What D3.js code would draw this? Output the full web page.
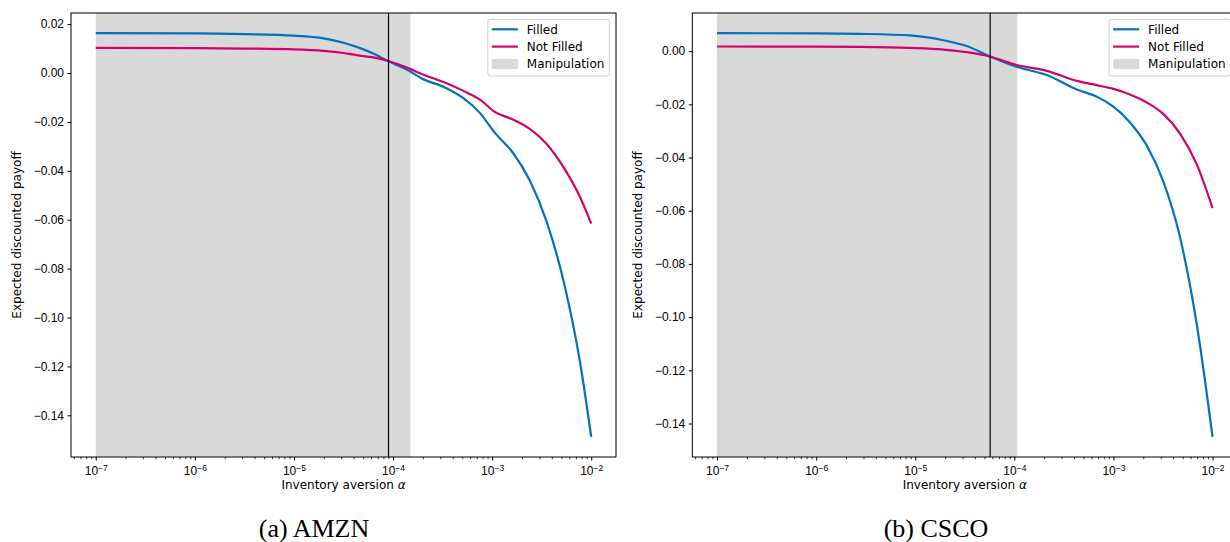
<!DOCTYPE html>
<html>
<head>
<meta charset="utf-8">
<script src="https://cdn.jsdelivr.net/npm/d3@7"></script>
<style>
  body { margin: 0; background: #fff; }
  svg { display: block; font-family: "DejaVu Sans", sans-serif; }
  .axis path, .axis line { stroke: #000; }
</style>
</head>
<body>
<svg id="chart" width="1230" height="542"></svg>
<script>
// ---- data (alpha as log10 exponent) ----
const amznAlphaExp = [-7.0, -6.0, -5.5, -5.0, -4.7, -4.5, -4.367, -4.2, -4.05, -3.84, -3.71, -3.46, -3.29, -3.12, -2.97, -2.79, -2.62, -2.45, -2.28, -2.11, -2.0];
const amznFilled    = [0.0163, 0.0162, 0.0159, 0.0153, 0.0142, 0.0124, 0.0107, 0.0080, 0.0049, 0.0009, -0.0022, -0.0062, -0.0103, -0.0165, -0.0246, -0.0326, -0.0440, -0.0608, -0.0850, -0.1190, -0.1488];
const amznNotFilled = [0.0103, 0.0102, 0.0100, 0.0097, 0.0091, 0.0082, 0.0073, 0.0064, 0.0049, 0.0019, -0.0004, -0.0042, -0.0073, -0.0110, -0.0160, -0.0190, -0.0228, -0.0290, -0.0385, -0.0510, -0.0616];
const amznVline = 9.0e-5;
const amznShade = [1e-7, 1.5e-4];

const cscoAlphaExp = [-7.0, -6.0, -5.558, -5.053, -4.717, -4.481, -4.239, -3.976, -3.673, -3.371, -3.169, -3.0, -2.833, -2.664, -2.497, -2.328, -2.16, -2.0];
const cscoFilled    = [0.00675, 0.0067, 0.0065, 0.0059, 0.0041, 0.0019, -0.0021, -0.0059, -0.0090, -0.0144, -0.0171, -0.0209, -0.0268, -0.0355, -0.0490, -0.0700, -0.1025, -0.1450];
const cscoNotFilled = [0.00175, 0.0017, 0.0016, 0.0012, 0.0006, -0.0004, -0.0021, -0.0052, -0.0074, -0.0112, -0.0128, -0.0142, -0.0163, -0.0193, -0.0236, -0.0310, -0.0425, -0.0590];
const cscoVline = 5.7e-5;
const cscoShade = [1e-7, 1.07e-4];

const majorExp = [-7, -6, -5, -4, -3, -2];
const amznYTicks = [0.02, 0.00, -0.02, -0.04, -0.06, -0.08, -0.10, -0.12, -0.14];
const cscoYTicks = [0.00, -0.02, -0.04, -0.06, -0.08, -0.10, -0.12, -0.14];

const seriesNames = ["Filled", "Not Filled", "Manipulation"];
const colors = { filled: "#0072bd", notFilled: "#d4006c", shade: "#d9d9d9" };

const svg = d3.select("#chart");
const fs = 12;

function drawPanel(p) {
  const g = svg.append("g");
  const left = p.left, right = p.left + 545, top = 13, bottom = 457;

  const alphas = p.exp.map(e => Math.pow(10, e));
  const lx = d3.extent(p.exp), lpad = (lx[1] - lx[0]) * 0.05;
  const x = d3.scaleLog()
    .domain([Math.pow(10, lx[0] - lpad), Math.pow(10, lx[1] + lpad)])
    .range([left, right]);

  const all = p.filled.concat(p.notFilled);
  const ye = d3.extent(all), ypad = (ye[1] - ye[0]) * 0.05;
  const y = d3.scaleLinear().domain([ye[0] - ypad, ye[1] + ypad]).range([bottom, top]);

  // shaded manipulation region
  g.append("rect")
    .attr("x", x(p.shade[0])).attr("y", top)
    .attr("width", x(p.shade[1]) - x(p.shade[0])).attr("height", bottom - top)
    .attr("fill", colors.shade);

  const line = d3.line().curve(d3.curveMonotoneX)
    .x((d, i) => x(alphas[i])).y(d => y(d));

  g.append("path").datum(p.filled)
    .attr("d", line).attr("fill", "none")
    .attr("stroke", colors.filled).attr("stroke-width", 2.2);
  g.append("path").datum(p.notFilled)
    .attr("d", line).attr("fill", "none")
    .attr("stroke", colors.notFilled).attr("stroke-width", 2.2);

  // vertical marker
  g.append("line")
    .attr("x1", x(p.vline)).attr("x2", x(p.vline))
    .attr("y1", top).attr("y2", bottom)
    .attr("stroke", "#000").attr("stroke-width", 1.2);

  // axes
  const majors = majorExp.map(e => Math.pow(10, e));
  const minors = [];
  for (let e = -8; e <= -2; e++) {
    for (let m = 2; m <= 9; m++) {
      const v = m * Math.pow(10, e);
      if (v >= x.domain()[0] && v <= x.domain()[1]) minors.push(v);
    }
  }

  g.append("g").attr("class", "axis")
    .attr("transform", "translate(0," + bottom + ")")
    .call(d3.axisBottom(x).tickValues(minors).tickSize(2.2).tickFormat(""))
    .call(a => a.select(".domain").remove())
    .selectAll("line").attr("stroke-width", 0.8);

  const xa = g.append("g").attr("class", "axis")
    .attr("transform", "translate(0," + bottom + ")")
    .call(d3.axisBottom(x).tickValues(majors).tickSize(3.5).tickPadding(3.5).tickFormat(""));
  xa.select(".domain").remove();
  xa.selectAll(".tick").each(function (d, i) {
    const t = d3.select(this).select("text")
      .attr("font-size", fs).attr("fill", "#000").attr("dy", "0.92em");
    t.append("tspan").text("10");
    t.append("tspan").attr("dy", "-0.5em").attr("font-size", 8.5)
      .text("\u2212" + Math.abs(majorExp[i]));
  });

  const ya = g.append("g").attr("class", "axis")
    .attr("transform", "translate(" + left + ",0)")
    .call(d3.axisLeft(y).tickValues(p.yTicks).tickSize(3.5).tickPadding(3.5)
      .tickFormat(d => d3.format(".2f")(d).replace("-", "\u2212")));
  ya.select(".domain").remove();
  ya.selectAll("text").attr("font-size", fs).attr("fill", "#000");

  // frame
  g.append("rect")
    .attr("x", left).attr("y", top).attr("width", right - left).attr("height", bottom - top)
    .attr("fill", "none").attr("stroke", "#000").attr("stroke-width", 1);

  // axis labels
  g.append("text")
    .attr("x", (left + right) / 2).attr("y", 489)
    .attr("text-anchor", "middle").attr("font-size", fs)
    .text("Inventory aversion ").append("tspan").attr("font-style", "italic").text("\u03b1");

  g.append("text")
    .attr("transform", "translate(" + (left - 50) + "," + ((top + bottom) / 2) + ") rotate(-90)")
    .attr("text-anchor", "middle").attr("font-size", fs)
    .text("Expected discounted payoff");

  // legend
  const lw = 121.6, lh = 56.7;
  const lg = g.append("g").attr("transform", "translate(" + (right - 6.6 - lw) + "," + (top + 6.3) + ")");
  lg.append("rect").attr("width", lw).attr("height", lh).attr("rx", 2.5)
    .attr("fill", "#fff").attr("fill-opacity", 0.8)
    .attr("stroke", "#d0d0d0").attr("stroke-width", 1);
  const rowY = [10, 27.3, 44.7];
  lg.append("line").attr("x1", 4).attr("x2", 30).attr("y1", rowY[0]).attr("y2", rowY[0])
    .attr("stroke", colors.filled).attr("stroke-width", 2.2);
  lg.append("line").attr("x1", 4).attr("x2", 30).attr("y1", rowY[1]).attr("y2", rowY[1])
    .attr("stroke", colors.notFilled).attr("stroke-width", 2.2);
  lg.append("rect").attr("x", 4).attr("y", rowY[2] - 5).attr("width", 26).attr("height", 10)
    .attr("fill", colors.shade);
  seriesNames.forEach((n, i) => {
    lg.append("text").attr("x", 39).attr("y", rowY[i]).attr("dy", "0.36em")
      .attr("font-size", fs).text(n);
  });

  // caption
  svg.append("text")
    .attr("x", p.captionX).attr("y", 537)
    .attr("text-anchor", "middle")
    .attr("font-family", "'Liberation Serif', 'Times New Roman', serif")
    .attr("font-size", 26)
    .text(p.caption);
}

drawPanel({
  left: 71, exp: amznAlphaExp, filled: amznFilled, notFilled: amznNotFilled,
  vline: amznVline, shade: amznShade, yTicks: amznYTicks, caption: "(a) AMZN", captionX: 314
});
drawPanel({
  left: 692.3, exp: cscoAlphaExp, filled: cscoFilled, notFilled: cscoNotFilled,
  vline: cscoVline, shade: cscoShade, yTicks: cscoYTicks, caption: "(b) CSCO", captionX: 936
});
</script>
</body>
</html>
